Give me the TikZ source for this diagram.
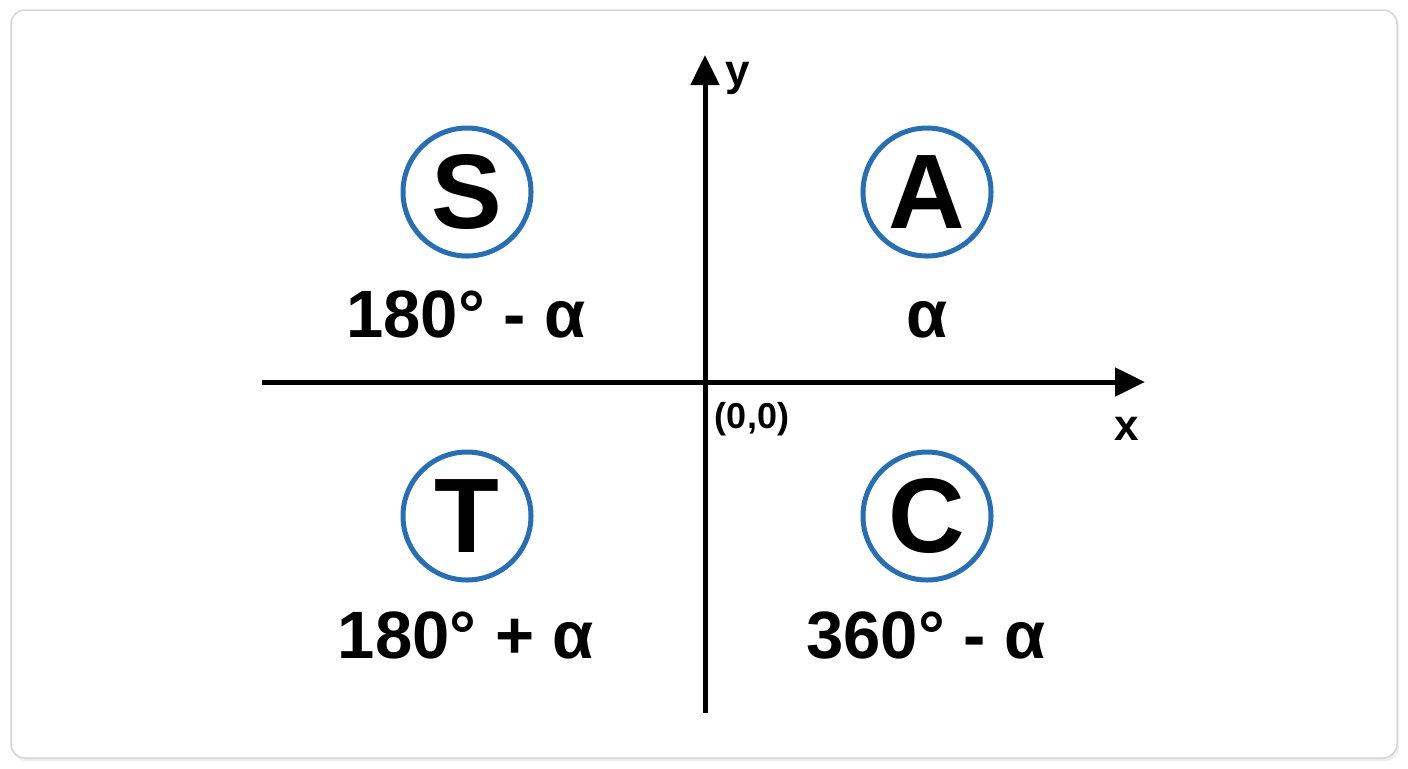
\documentclass[tikz,border=0pt]{standalone}
\usepackage{fontspec}
\setmainfont{Liberation Sans}
\usetikzlibrary{arrows.meta}
\definecolor{quadblue}{RGB}{40,110,178}
\definecolor{cardgray}{RGB}{214,214,214}

\begin{document}
\begin{tikzpicture}[x=0.5pt,y=-0.5pt,
	quadrant/.style={circle, draw=quadblue, line width=2.5pt, minimum size=64pt, inner sep=0pt, font=\fontsize{53}{53}\selectfont\bfseries},
	angle/.style={anchor=base, font=\fontsize{33.5}{33.5}\selectfont\bfseries},
	axis/.style={line width=2.5pt, -{Triangle[length=15pt,width=14pt]}},
	axislabel/.style={anchor=base, font=\fontsize{22}{22}\selectfont\bfseries}]
	\useasboundingbox (0,0) rectangle (1408,768);
	% card
	\fill[black!7, rounded corners=7pt] (12,12) rectangle (1399,761);
	\filldraw[fill=white, draw=cardgray, line width=0.75pt, rounded corners=7pt] (11,10) rectangle (1397,758);
	% axes
	\coordinate (xstart) at (262,382);
	\coordinate (xend) at (1145,382);
	\coordinate (ystart) at (705,713);
	\coordinate (yend) at (705,55);
	\draw[axis] (xstart) -- (xend);
	\draw[axis] (ystart) -- (yend);
	\node[axislabel] (xlabel) at (1127,440) {x};
	\node[axislabel] (ylabel) at (738,85) {y};
	\node[anchor=base, font=\fontsize{18}{18}\selectfont\bfseries] (origin) at (752,428) {(0,0)};
	% quadrants
	\node[quadrant] (S) at (467,192) {S};
	\node[quadrant] (A) at (927,192) {A};
	\node[quadrant] (T) at (467,516) {T};
	\node[quadrant] (C) at (927,516) {C};
	\node[angle] (Sangle) at (466,337) {180° - α};
	\node[angle] (Aangle) at (927,337) {α};
	\node[angle] (Tangle) at (466,658) {180° + α};
	\node[angle] (Cangle) at (926,658) {360° - α};
\end{tikzpicture}
\end{document}
